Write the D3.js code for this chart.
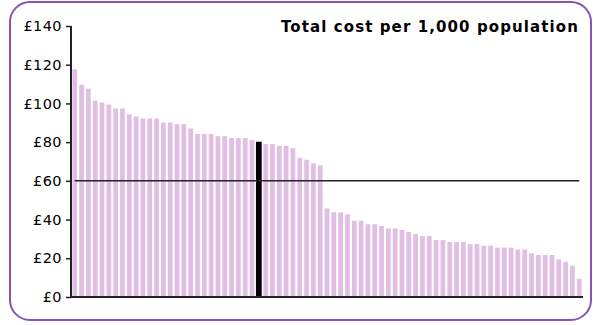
<!DOCTYPE html>
<html>
<head>
<meta charset="utf-8">
<script src="https://cdn.jsdelivr.net/npm/d3@7"></script>
<style>
  html, body { margin: 0; padding: 0; background: #ffffff; }
  svg { display: block; }
</style>
</head>
<body>
<svg id="chart" width="593" height="325"></svg>
<script>
const title = "Total cost per 1,000 population";
const categories = d3.range(1, 76).map(String);
const costValues = [
  117.6, 109.7, 107.6, 101.5, 100.5, 99.4, 97.4, 97.4, 94.4, 93.3,
  92.2, 92.2, 92.2, 90.2, 90.2, 89.3, 89.3, 87.1, 84.2, 84.2,
  84.2, 83.1, 83.1, 82.1, 82.1, 82.1, 81.1, 80.2, 79.0, 79.0,
  78.1, 78.1, 76.9, 71.9, 70.9, 69.1, 68.0, 45.8, 43.8, 43.7,
  42.7, 39.4, 39.4, 37.6, 37.6, 36.7, 35.4, 35.4, 34.6, 33.6,
  32.5, 31.5, 31.5, 29.4, 29.4, 28.4, 28.4, 28.4, 27.4, 27.4,
  26.5, 26.5, 25.5, 25.5, 25.5, 24.5, 24.5, 22.6, 21.7, 21.7,
  21.7, 19.5, 18.2, 16.2, 9.3
];
const highlightCategory = "28";
const referenceValue = [60];
const yTicks = [0, 20, 40, 60, 80, 100, 120, 140];
const yTickLabels = yTicks.map(v => "£" + v);

const svg = d3.select("#chart");

// frame
svg.append("rect")
  .attr("x", 10).attr("y", 2)
  .attr("width", 581).attr("height", 318)
  .attr("rx", 20).attr("ry", 20)
  .attr("fill", "#ffffff")
  .attr("stroke", "#8455b2")
  .attr("stroke-width", 2);

const x = d3.scaleBand()
  .domain(categories)
  .range([71, 583])
  .paddingInner(0.3)
  .paddingOuter(0.2);

const y = d3.scaleLinear()
  .domain([0, 140])
  .range([297, 26]);

const data = categories.map((c, i) => ({ c, v: costValues[i] }));

// bars
svg.append("g")
  .selectAll("rect")
  .data(data)
  .join("rect")
  .attr("x", d => d.c === highlightCategory ? x(d.c) - 0.5 : x(d.c))
  .attr("y", d => y(d.v))
  .attr("width", d => d.c === highlightCategory ? x.bandwidth() + 1 : x.bandwidth())
  .attr("height", d => y(0) - y(d.v))
  .attr("fill", d => d.c === highlightCategory ? "#000000" : "#e1bfe5");

// reference line
const first = categories[0], last = categories[categories.length - 1];
svg.append("g")
  .selectAll("line")
  .data(referenceValue)
  .join("line")
  .attr("x1", x(first) + x.bandwidth() / 2)
  .attr("x2", x(last) + x.bandwidth() / 2)
  .attr("y1", d => y(d))
  .attr("y2", d => y(d))
  .attr("stroke", "#222222")
  .attr("stroke-width", 1.5);

// y axis
const yAxis = d3.axisLeft(y)
  .tickValues(yTicks)
  .tickFormat((d, i) => yTickLabels[i])
  .tickSize(5)
  .tickPadding(4);

const gy = svg.append("g")
  .attr("transform", "translate(71,0)")
  .call(yAxis);
gy.select(".domain").attr("stroke", "#222").attr("stroke-width", 2).attr("d", `M0,${y(140)}V${y(0)}`);
gy.selectAll(".tick line").attr("stroke", "#222").attr("stroke-width", 1.5);
gy.selectAll(".tick text")
  .attr("font-family", "DejaVu Sans, Verdana, sans-serif")
  .attr("font-size", 14.5)
  .attr("letter-spacing", 0.4)
  .attr("fill", "#000");

// x axis baseline
const xAxis = d3.axisBottom(x).tickSize(0).tickFormat("");
const gx = svg.append("g")
  .attr("transform", `translate(0,${y(0)})`)
  .call(xAxis);
gx.select(".domain").attr("stroke", "#222").attr("stroke-width", 2).attr("d", "M70,0H583");

// title
svg.append("text")
  .attr("x", 579).attr("y", 32)
  .attr("text-anchor", "end")
  .attr("font-family", "DejaVu Sans, Verdana, sans-serif")
  .attr("font-weight", "bold")
  .attr("font-size", 15)
  .attr("letter-spacing", 1.1)
  .attr("fill", "#000")
  .text(title);
</script>
</body>
</html>
